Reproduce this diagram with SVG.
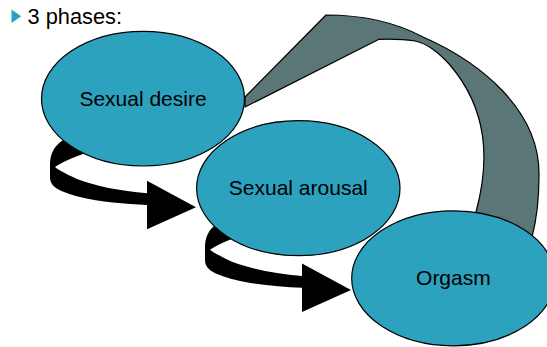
<svg xmlns="http://www.w3.org/2000/svg" width="547" height="347" viewBox="0 0 547 347">
<defs>
<style>
.node ellipse{fill:#2ca2bf;stroke:#000;stroke-width:1.2}
.node text{font-family:"Liberation Sans",Arial,sans-serif;font-size:21px;fill:#000;text-anchor:middle}
.title{font-family:"Liberation Sans",Arial,sans-serif;font-size:21.8px;fill:#000}
.band{fill:#5b7677;stroke:#000;stroke-width:1.2;stroke-linejoin:round}
.arrow{fill:#000;stroke:none}
</style>
<path id="curvedArrow" d="M 78,128 L 63,140 C 53,147 50,155 50,165 L 50,177 C 50,186 57,191 80,197 C 100,202 125,204 147,205 L 147,229.3 L 196,207.3 L 147,180.7 L 147,193.3 C 120,191 95,186 77,179 C 64,173 57,169 55,167 C 62,162 72,158 86,153 L 100,140 Z"/>
</defs>
<g id="title">
<polygon points="11.5,9.5 21.2,16.3 11.5,23" fill="#2ca2bf"/>
<text class="title" x="27.5" y="24">3 phases:</text>
</g>
<g id="connectors">
<path class="band" d="M 245,97 L 326,15 C 360,15 395,22 423,37 C 480,62 540,110 539,175 C 539,200 536,222 532,237 L 476,212 C 490,160 488,110 450,65 C 438,52 428,44 415,41 C 402,39 390,39 379,39.3 L 245,107 Z"/>
<use href="#curvedArrow" class="arrow"/>
<use href="#curvedArrow" class="arrow" transform="translate(155,82.7)"/>
</g>
<g id="node-desire" class="node">
<ellipse cx="143" cy="98.7" rx="101.5" ry="67.3"/>
<text x="143" y="105.5">Sexual desire</text>
</g>
<g id="node-arousal" class="node">
<ellipse cx="298.3" cy="188.2" rx="101.7" ry="67.5"/>
<text x="298.3" y="195">Sexual arousal</text>
</g>
<g id="node-orgasm" class="node">
<ellipse cx="453.4" cy="278.3" rx="101.7" ry="67.5"/>
<text x="453.4" y="285">Orgasm</text>
</g>
</svg>
